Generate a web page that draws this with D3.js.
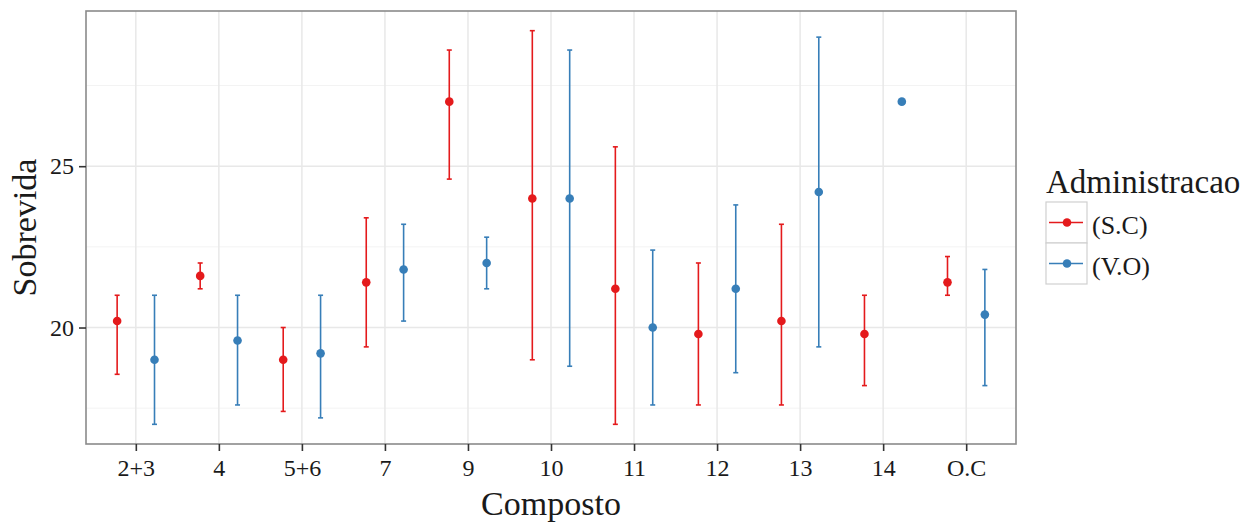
<!DOCTYPE html>
<html>
<head>
<meta charset="utf-8">
<script src="https://cdnjs.cloudflare.com/ajax/libs/d3/7.8.5/d3.min.js"></script>
<style>
body { margin: 0; background: #fff; }
text { font-family: "Liberation Serif", "Times New Roman", serif; fill: #1a1a1a; }
</style>
</head>
<body>
<script>
// chart values
var categories = ["2+3", "4", "5+6", "7", "9", "10", "11", "12", "13", "14", "O.C"];
var groups = ["(S.C)", "(V.O)"];
var colors = ["#e41a1c", "#377eb8"];

var scMean  = [20.2, 21.6, 19.0, 21.4, 27.0, 24.0, 21.2, 19.8, 20.2, 19.8, 21.4];
var scLow   = [18.55, 21.2, 17.4, 19.4, 24.6, 19.0, 17.0, 17.6, 17.6, 18.2, 21.0];
var scHigh  = [21.0, 22.0, 20.0, 23.4, 28.6, 29.2, 25.6, 22.0, 23.2, 21.0, 22.2];

var voMean  = [19.0, 19.6, 19.2, 21.8, 22.0, 24.0, 20.0, 21.2, 24.2, 27.0, 20.4];
var voLow   = [17.0, 17.6, 17.2, 20.2, 21.2, 18.8, 17.6, 18.6, 19.4, 27.0, 18.2];
var voHigh  = [21.0, 21.0, 21.0, 23.2, 22.8, 28.6, 22.4, 23.8, 29.0, 27.0, 21.8];

var yTicks = [20, 25];
var yMinor = [17.5, 22.5, 27.5];

var width = 1250, height = 527;
var panel = { left: 86, right: 1016, top: 11, bottom: 444 };

var svg = d3.select("body").append("svg")
    .attr("width", width)
    .attr("height", height);

var rows = [];
categories.forEach(function (c, i) {
    rows.push({ cat: c, g: 0, mean: scMean[i], lo: scLow[i], hi: scHigh[i] });
    rows.push({ cat: c, g: 1, mean: voMean[i], lo: voLow[i], hi: voHigh[i] });
});

var lo = d3.min(rows, function (d) { return d.lo; });
var hi = d3.max(rows, function (d) { return d.hi; });
var pad = (hi - lo) * 0.05;

var y = d3.scaleLinear()
    .domain([lo - pad, hi + pad])
    .range([panel.bottom, panel.top]);

var x = d3.scalePoint()
    .domain(categories)
    .range([panel.left, panel.right])
    .padding(0.6);

var step = x.step();
var dodge = d3.scaleOrdinal().domain([0, 1]).range([-0.225 * step, 0.225 * step]);

// grid
var grid = svg.append("g");
grid.selectAll(".minor").data(yMinor).enter().append("line")
    .attr("x1", panel.left).attr("x2", panel.right)
    .attr("y1", function (d) { return y(d); }).attr("y2", function (d) { return y(d); })
    .attr("stroke", "#f3f3f3").attr("stroke-width", 1);
grid.selectAll(".major").data(yTicks).enter().append("line")
    .attr("x1", panel.left).attr("x2", panel.right)
    .attr("y1", function (d) { return y(d); }).attr("y2", function (d) { return y(d); })
    .attr("stroke", "#e8e8e8").attr("stroke-width", 1.5);
grid.selectAll(".vx").data(categories).enter().append("line")
    .attr("x1", function (d) { return x(d); }).attr("x2", function (d) { return x(d); })
    .attr("y1", panel.top).attr("y2", panel.bottom)
    .attr("stroke", "#e8e8e8").attr("stroke-width", 1.5);

// error bars
var cap = 2.5;
var bars = svg.append("g").selectAll("g").data(rows).enter().append("g")
    .attr("stroke", function (d) { return colors[d.g]; })
    .attr("stroke-width", 1.6);
bars.filter(function (d) { return d.hi > d.lo; }).each(function (d) {
    var g = d3.select(this);
    var cx = x(d.cat) + dodge(d.g);
    g.append("line").attr("x1", cx).attr("x2", cx).attr("y1", y(d.lo)).attr("y2", y(d.hi));
    g.append("line").attr("x1", cx - cap).attr("x2", cx + cap).attr("y1", y(d.lo)).attr("y2", y(d.lo));
    g.append("line").attr("x1", cx - cap).attr("x2", cx + cap).attr("y1", y(d.hi)).attr("y2", y(d.hi));
});

svg.append("g").selectAll("circle").data(rows).enter().append("circle")
    .attr("cx", function (d) { return x(d.cat) + dodge(d.g); })
    .attr("cy", function (d) { return y(d.mean); })
    .attr("r", 4.3)
    .attr("fill", function (d) { return colors[d.g]; });

// panel border
svg.append("rect")
    .attr("x", panel.left).attr("y", panel.top)
    .attr("width", panel.right - panel.left).attr("height", panel.bottom - panel.top)
    .attr("fill", "none").attr("stroke", "#8a8a8a").attr("stroke-width", 1.6);

// axes
var yAxis = svg.append("g")
    .attr("transform", "translate(" + panel.left + ",0)")
    .call(d3.axisLeft(y).tickValues(yTicks).tickSize(7).tickPadding(5));
var xAxis = svg.append("g")
    .attr("transform", "translate(0," + panel.bottom + ")")
    .call(d3.axisBottom(x).tickSize(7).tickPadding(8));
[xAxis, yAxis].forEach(function (a) {
    a.attr("font-family", null);
    a.select(".domain").remove();
    a.selectAll(".tick line").attr("stroke", "#333").attr("stroke-width", 1.6);
    a.selectAll(".tick text").style("font-family", "'Liberation Serif', serif")
        .style("font-size", "24px").attr("fill", "#1a1a1a");
});

// titles
svg.append("text")
    .attr("x", (panel.left + panel.right) / 2).attr("y", 515)
    .attr("text-anchor", "middle")
    .style("font-size", "34px")
    .text("Composto");
svg.append("text")
    .attr("transform", "translate(36," + ((panel.top + panel.bottom) / 2) + ") rotate(-90)")
    .attr("text-anchor", "middle")
    .style("font-size", "34px")
    .text("Sobrevida");

// legend
var leg = svg.append("g").attr("transform", "translate(1046,0)");
leg.append("text").attr("x", 0).attr("y", 193).style("font-size", "33px").text("Administracao");
var items = leg.selectAll(".item").data(groups).enter().append("g")
    .attr("transform", function (d, i) { return "translate(0," + (202 + i * 41) + ")"; });
items.append("rect").attr("width", 41).attr("height", 41)
    .attr("fill", "#fff").attr("stroke", "#d0d0d0").attr("stroke-width", 1.2);
items.append("line").attr("x1", 3).attr("x2", 37).attr("y1", 20.5).attr("y2", 20.5)
    .attr("stroke", function (d, i) { return colors[i]; }).attr("stroke-width", 1.6);
items.append("circle").attr("cx", 21).attr("cy", 20.5).attr("r", 4.3)
    .attr("fill", function (d, i) { return colors[i]; });
items.append("text").attr("x", 46).attr("y", 32).style("font-size", "26px").text(function (d) { return d; });
</script>
</body>
</html>
